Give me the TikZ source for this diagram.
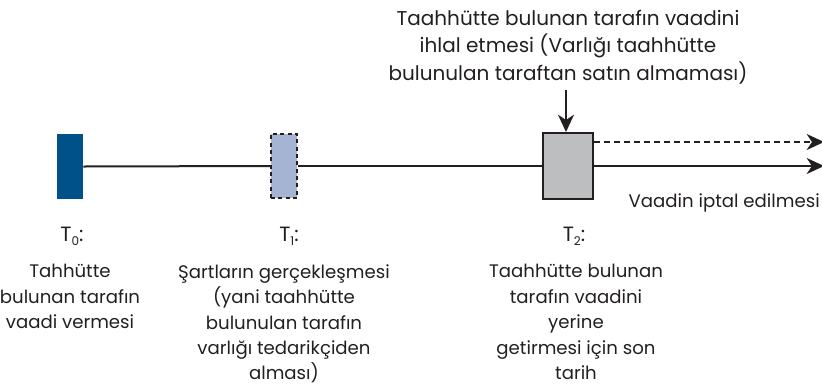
\documentclass[tikz,border=0pt]{standalone}
\usepackage{fontspec}
\setmainfont{Poppins}
\usetikzlibrary{arrows.meta}
\definecolor{darkblue}{HTML}{00508A}
\definecolor{lightblue}{HTML}{A6B4D3}
\definecolor{boxgrey}{HTML}{BDBEC0}
\definecolor{ink}{HTML}{231F20}
\newcommand{\tsub}[1]{\raisebox{-0.4ex}{\fontsize{9pt}{10pt}\selectfont #1}}
\begin{document}
\begin{tikzpicture}[x=0.75pt,y=-0.75pt,
  txt/.style={font=\fontsize{13.6pt}{19.1pt}\selectfont, text=ink, align=center, inner sep=0pt},
  lbl/.style={font=\fontsize{15.5pt}{17pt}\selectfont, text=ink, inner sep=0pt, anchor=base},
  tl/.style={line width=1.5pt, draw=ink},
  tip/.style={-{Stealth[length=13pt,width=12pt,inset=4pt]}}
]
\useasboundingbox (0,0) rectangle (822,387);
% timeline
\node[fill=darkblue, minimum width=19.5pt, minimum height=48.75pt, inner sep=0pt] (b0) at (70,166.5) {};
\node[fill=lightblue, draw=ink, line width=1.5pt, dash pattern=on 3pt off 2.5pt, minimum width=19.5pt, minimum height=48pt, inner sep=0pt] (b1) at (284,166) {};
\node[fill=boxgrey, draw=ink, line width=1.5pt, minimum width=37.5pt, minimum height=49.5pt, inner sep=0pt] (b2) at (568,166) {};
\coordinate (e1) at (824,166);
\coordinate (e2) at (824,142);
\draw[tl] (b0.east) -- (b1.west);
\draw[tl] (b1.east) -- (b2.west);
\draw[tl, tip] (b2.east) -- (e1);
\draw[tl, tip, dash pattern=on 4.5pt off 3pt] (b2.east |- e2) -- (e2);
% top note
\node[txt, font=\fontsize{15pt}{20.6pt}\selectfont] (top) at (568,47) {Taahhütte bulunan tarafın vaadini\\ihlal etmesi (Varlığı taahhütte\\bulunulan taraftan satın almaması)};
\coordinate (atop) at (566,90);
\draw[tl, tip] (atop) -- (b2.north -| atop);
% labels
\node[txt, anchor=east] (iptal) at (820,203) {Vaadin iptal edilmesi};
\node[lbl] (t0) at (72,241) {T\tsub{0}:};
\node[lbl] (t1) at (289,241) {T\tsub{1}:};
\node[lbl] (t2) at (574,241) {T\tsub{2}:};
\node[txt, anchor=north] (d0) at (70,264) {Tahhütte\\bulunan tarafın\\vaadi vermesi};
\node[txt, anchor=north] (d1) at (284,264) {Şartların gerçekleşmesi\\(yani taahhütte\\bulunulan tarafın\\varlığı tedarikçiden\\alması)};
\node[txt, anchor=north] (d2) at (576,264) {Taahhütte bulunan\\tarafın vaadini\\yerine\\getirmesi için son\\tarih};
\end{tikzpicture}
\end{document}
